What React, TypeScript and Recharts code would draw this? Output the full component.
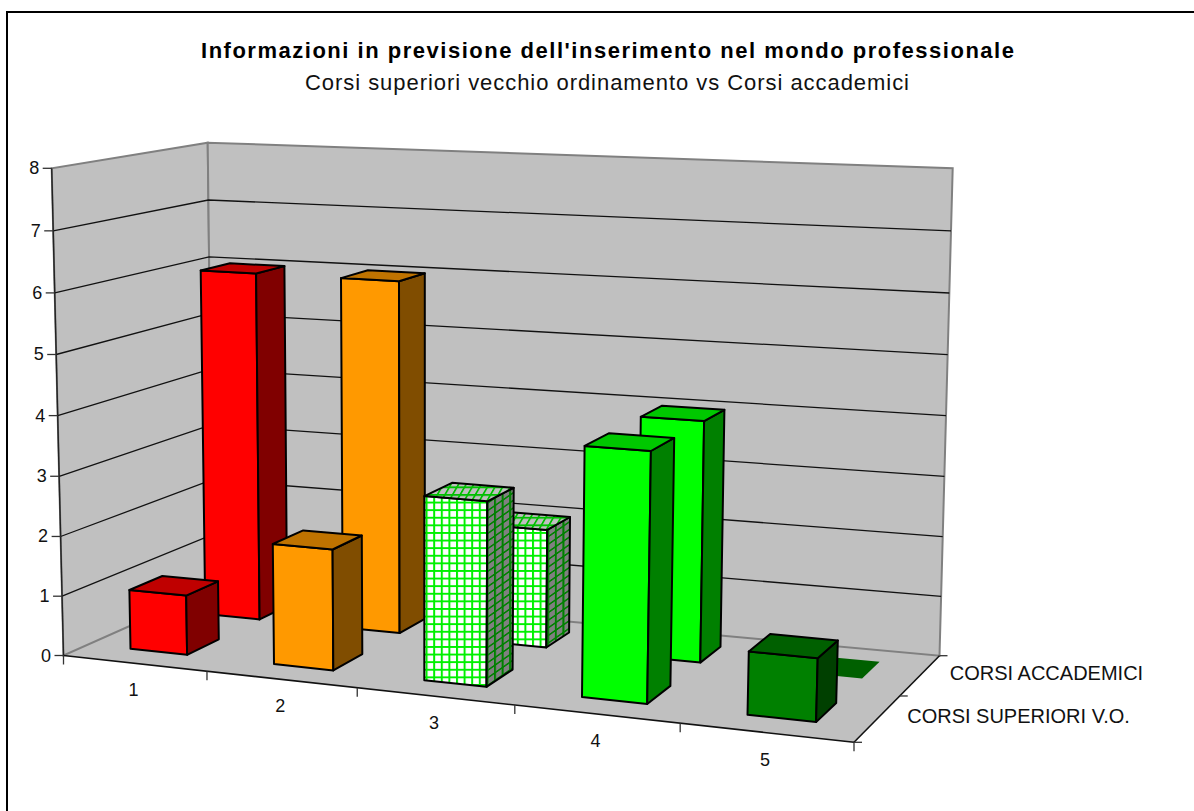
import React from "react";
import { Bar, CartesianGrid, ComposedChart, Customized, XAxis, YAxis } from "recharts";

const categories = ["1", "2", "3", "4", "5"];
const corsiSuperiori = [1, 2, 3, 4, 1];
const corsiAccademici = [6, 6, 2, 4, 0];
const valueTicks = [0, 1, 2, 3, 4, 5, 6, 7, 8];
const seriesNames = ["CORSI SUPERIORI V.O.", "CORSI ACCADEMICI"];

const data = categories.map((category, i) => ({
    category,
    superiori: corsiSuperiori[i],
    accademici: corsiAccademici[i],
}));

const WIDTH = 1194;
const HEIGHT = 811;
const FONT = '"Liberation Sans", Arial, sans-serif';

// flat plot rectangle the recharts scales work in; everything is then projected onto the 3D box
const PLOT = { x: 40, y: 20, width: 1000, height: 700 };
const MAX_VALUE = valueTicks[valueTicks.length - 1];

// screen position of the box corners, named [u][v][w]: u along categories, v up, w into depth
const BOX = {
    c000: [63.5, 655.5], c100: [854, 742.3], c010: [51.7, 168.3], c110: [869, 207],
    c001: [213, 589], c101: [939.5, 655.7], c011: [207.7, 142.7], c111: [952.7, 168.3],
};

// perspective makes the steps along each edge uneven
const warpU = (u: number) => (u * 0.887) / (1 - 0.113 * u);
const warpV = (v: number) => (v * 0.97) / (1 - 0.03 * v);
const warpW = (w: number) => (w * 1.15) / (1 + 0.15 * w);

function project(uRaw: number, vRaw: number, wRaw: number): [number, number] {
    const u = warpU(uRaw);
    const v = warpV(vRaw);
    const w = warpW(wRaw);
    const mix = (k: 0 | 1) => {
        const bottom =
            (1 - w) * ((1 - u) * BOX.c000[k] + u * BOX.c100[k]) + w * ((1 - u) * BOX.c001[k] + u * BOX.c101[k]);
        const top =
            (1 - w) * ((1 - u) * BOX.c010[k] + u * BOX.c110[k]) + w * ((1 - u) * BOX.c011[k] + u * BOX.c111[k]);
        return (1 - v) * bottom + v * top;
    };
    return [mix(0), mix(1)];
}

const toU = (x: number) => (x - PLOT.x) / PLOT.width;
const toV = (y: number) => (PLOT.y + PLOT.height - y) / PLOT.height;
const points = (list: [number, number][]) => list.map((p) => `${p[0].toFixed(1)},${p[1].toFixed(1)}`).join(" ");

const faces = [
    { front: "#ff0000", side: "#800000", top: "#bf0000" },
    { front: "#ff9900", side: "#804d00", top: "#bf7300" },
    { front: "url(#gridFront)", side: "url(#gridSide)", top: "url(#gridTop)" },
    { front: "#00ff00", side: "#008000", top: "#00c800" },
    { front: "#008000", side: "#004000", top: "#006000" },
];

const depthRanges = { front: [0.15, 0.36], back: [0.65, 0.86] };

function Box3D(props: any, range: number[]) {
    const { x, y, width, height, index } = props;
    const u0 = toU(x);
    const u1 = toU(x + width);
    const v = toV(y);
    const [w0, w1] = range;
    const f = faces[index];
    const flat = !height;
    const line = { stroke: flat ? "none" : "#000", strokeWidth: 2, strokeLinejoin: "round" as const };
    return (
        <g>
            {!flat && (
                <polygon
                    points={points([project(u0, 0, w0), project(u1, 0, w0), project(u1, v, w0), project(u0, v, w0)])}
                    fill={f.front}
                    {...line}
                />
            )}
            {!flat && (
                <polygon
                    points={points([project(u1, 0, w0), project(u1, 0, w1), project(u1, v, w1), project(u1, v, w0)])}
                    fill={f.side}
                    {...line}
                />
            )}
            <polygon
                points={points([project(u0, v, w0), project(u1, v, w0), project(u1, v, w1), project(u0, v, w1)])}
                fill={f.top}
                {...line}
            />
        </g>
    );
}

function GridLine(props: any) {
    const v = toV(props.y1);
    const wallEdge = "#808080";
    return (
        <g key={props.key}>
            {props.index === 0 && (
                <g>
                    <polygon
                        points={points([project(0, 0, 0), project(1, 0, 0), project(1, 0, 1), project(0, 0, 1)])}
                        fill="#c0c0c0"
                        stroke="none"
                    />
                    <polygon
                        points={points([project(0, 0, 0), project(0, 1, 0), project(0, 1, 1), project(0, 0, 1)])}
                        fill="#c0c0c0"
                        stroke={wallEdge}
                        strokeWidth={2}
                    />
                    <polygon
                        points={points([project(0, 0, 1), project(0, 1, 1), project(1, 1, 1), project(1, 0, 1)])}
                        fill="#c0c0c0"
                        stroke={wallEdge}
                        strokeWidth={2}
                    />
                </g>
            )}
            {v > 0.01 && v < 0.99 && (
                <polyline
                    points={points([project(0, v, 0), project(0, v, 1), project(1, v, 1)])}
                    fill="none"
                    stroke="#111"
                    strokeWidth={1.3}
                />
            )}
        </g>
    );
}

function CategoryTick(props: any) {
    const { x, payload, index } = props;
    const band = PLOT.width / categories.length;
    const u = toU(x);
    const [lx, ly] = project(u, 0, 0);
    const left = project(toU(x - band / 2), 0, 0);
    const right = project(toU(x + band / 2), 0, 0);
    return (
        <g>
            <line x1={left[0]} y1={left[1]} x2={left[0]} y2={left[1] + 9} stroke="#333" strokeWidth={1.3} />
            {index === categories.length - 1 && (
                <line x1={right[0]} y1={right[1]} x2={right[0]} y2={right[1] + 9} stroke="#333" strokeWidth={1.3} />
            )}
            <text x={lx - 1} y={ly + 27} textAnchor="middle" dominantBaseline="central" fontFamily={FONT} fontSize={18} fill="#111">
                {payload.value}
            </text>
        </g>
    );
}

function ValueTick(props: any) {
    const { y, payload } = props;
    const [ax, ay] = project(0, toV(y), 0);
    return (
        <g>
            <line x1={ax - 9} y1={ay} x2={ax} y2={ay} stroke="#333" strokeWidth={1.3} />
            <text x={ax - 12.5} y={ay} textAnchor="end" dominantBaseline="central" fontFamily={FONT} fontSize={18} fill="#111">
                {payload.value}
            </text>
        </g>
    );
}

function Frame() {
    const o = project(0, 0, 0);
    const topLeft = project(0, 1, 0);
    const frontRight = project(1, 0, 0);
    const backRight = project(1, 0, 1);
    const depthMarks = [0, 0.5, 1];
    return (
        <g>
            <defs>
                <pattern id="gridFront" patternUnits="userSpaceOnUse" width={7.6} height={7.6}>
                    <rect width={7.6} height={7.6} fill="#fff" />
                    <path d="M0 1H7.6M1 0V7.6" stroke="#00f000" strokeWidth={2} />
                </pattern>
                <pattern id="gridSide" patternUnits="userSpaceOnUse" width={7.6} height={7.6} patternTransform="skewY(-35)">
                    <rect width={7.6} height={7.6} fill="#808080" />
                    <path d="M0 1H7.6M1 0V7.6" stroke="#008000" strokeWidth={2} />
                </pattern>
                <pattern id="gridTop" patternUnits="userSpaceOnUse" width={7.6} height={7.6} patternTransform="skewX(-30)">
                    <rect width={7.6} height={7.6} fill="#c0c0c0" />
                    <path d="M0 1H7.6M1 0V7.6" stroke="#00bf00" strokeWidth={2} />
                </pattern>
            </defs>
            <line x1={o[0]} y1={o[1]} x2={topLeft[0]} y2={topLeft[1]} stroke="#222" strokeWidth={1.4} />
            <line x1={o[0]} y1={o[1]} x2={frontRight[0]} y2={frontRight[1]} stroke="#111" strokeWidth={1.6} />
            <line x1={frontRight[0]} y1={frontRight[1]} x2={backRight[0]} y2={backRight[1]} stroke="#111" strokeWidth={1.6} />
            {depthMarks.map((w) => {
                const p = project(1, 0, w);
                return <line key={w} x1={p[0]} y1={p[1]} x2={p[0] + 8} y2={p[1]} stroke="#333" strokeWidth={1.3} />;
            })}
            {seriesNames.map((name, i) => {
                const p = project(1, 0, 0.25 + i * 0.5);
                return (
                    <text key={name} x={p[0] + 29.5} y={p[1] - 2} dominantBaseline="central" fontFamily={FONT} fontSize={20} fill="#111">
                        {name}
                    </text>
                );
            })}
            <text x={201} y={50.5} dominantBaseline="central" fontFamily={FONT} fontSize={22} fontWeight="bold" fill="#000" textLength={813} lengthAdjust="spacing">
                Informazioni in previsione dell'inserimento nel mondo professionale
            </text>
            <text x={305} y={82.5} dominantBaseline="central" fontFamily={FONT} fontSize={22} fill="#111" textLength={604} lengthAdjust="spacing">
                Corsi superiori vecchio ordinamento vs Corsi accademici
            </text>
        </g>
    );
}

export default function App() {
    return (
        <div style={{ position: "absolute", left: 0, top: 0, width: WIDTH, height: HEIGHT, background: "#fff", overflow: "hidden" }}>
            <div
                style={{
                    position: "absolute",
                    left: 6,
                    top: 11,
                    width: WIDTH,
                    height: HEIGHT,
                    borderLeft: "2px solid #000",
                    borderTop: "2px solid #000",
                }}
            />
            <ComposedChart
                width={WIDTH}
                height={HEIGHT}
                data={data}
                barCategoryGap="30%"
                margin={{ top: PLOT.y, left: 0, right: WIDTH - PLOT.x - PLOT.width, bottom: 0 }}
                style={{ position: "absolute", left: 0, top: 0 }}
            >
                <CartesianGrid xAxisId="front" vertical={false} horizontal={GridLine} />
                <XAxis
                    xAxisId="front"
                    dataKey="category"
                    height={HEIGHT - PLOT.y - PLOT.height}
                    axisLine={false}
                    tickLine={false}
                    interval={0}
                    tick={CategoryTick}
                />
                <XAxis xAxisId="back" dataKey="category" hide />
                <YAxis
                    width={PLOT.x}
                    domain={[0, MAX_VALUE]}
                    ticks={valueTicks}
                    interval={0}
                    axisLine={false}
                    tickLine={false}
                    tick={ValueTick}
                />
                <Customized component={Frame} />
                <Bar
                    xAxisId="back"
                    dataKey="accademici"
                    name={seriesNames[1]}
                    isAnimationActive={false}
                    shape={(p: any) => Box3D(p, depthRanges.back)}
                />
                <Bar
                    xAxisId="front"
                    dataKey="superiori"
                    name={seriesNames[0]}
                    isAnimationActive={false}
                    shape={(p: any) => Box3D(p, depthRanges.front)}
                />
            </ComposedChart>
        </div>
    );
}
